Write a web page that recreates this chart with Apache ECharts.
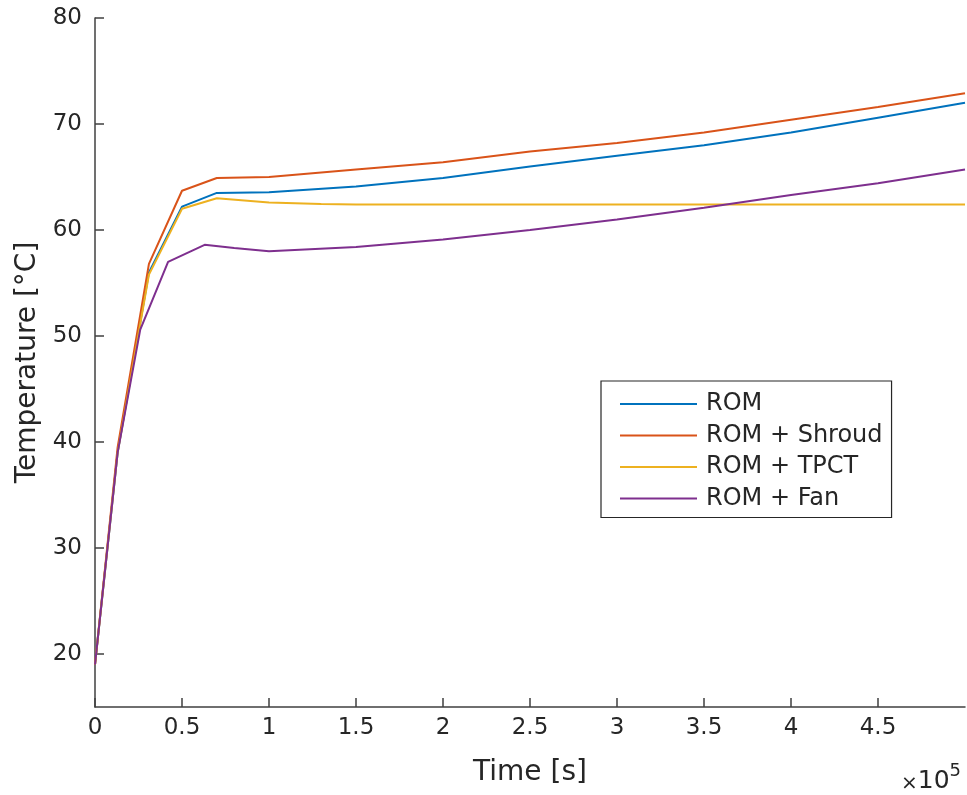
<!DOCTYPE html>
<html>
<head>
<meta charset="utf-8">
<script src="https://cdn.jsdelivr.net/npm/echarts@6/dist/echarts.min.js"></script>
<style>
html,body{margin:0;padding:0;background:#fff;}
#chart{width:967px;height:795px;}
</style>
</head>
<body>
<div id="chart"></div>
<script>
// Time values in seconds
const timeMain = [0, 13000, 31000, 50000, 70000, 100000, 150000, 200000, 250000, 300000, 350000, 400000, 450000, 500000];
const romValues = [19, 39, 56.0, 62.2, 63.5, 63.55, 64.1, 64.9, 66.0, 67.0, 68.0, 69.2, 70.6, 72.0];
const shroudValues = [19, 39.5, 56.8, 63.7, 64.9, 65.0, 65.7, 66.4, 67.4, 68.2, 69.2, 70.4, 71.6, 72.9];
const timeTpct = [0, 13000, 31000, 50000, 70000, 100000, 130000, 150000, 200000, 250000, 300000, 350000, 400000, 450000, 500000];
const tpctValues = [19, 39, 55.8, 62.0, 63.0, 62.6, 62.45, 62.4, 62.4, 62.4, 62.4, 62.4, 62.4, 62.4, 62.4];
const timeFan = [0, 13000, 26000, 42000, 63000, 80000, 100000, 150000, 200000, 250000, 300000, 350000, 400000, 450000, 500000];
const fanValues = [19, 39, 50.6, 57.0, 58.6, 58.3, 58.0, 58.4, 59.1, 60.0, 61.0, 62.1, 63.3, 64.4, 65.7];

const seriesNames = ['ROM', 'ROM + Shroud', 'ROM + TPCT', 'ROM + Fan'];
const seriesColors = ['#0072BD', '#D95319', '#EDB120', '#7E2F8E'];

const xTickValues = [0, 50000, 100000, 150000, 200000, 250000, 300000, 350000, 400000, 450000];
const xTickLabels = ['0', '0.5', '1', '1.5', '2', '2.5', '3', '3.5', '4', '4.5'];
const yTickValues = [20, 30, 40, 50, 60, 70, 80];

function pairs(t, v) { return t.map((x, i) => [x, v[i]]); }

const FONT = 'DejaVu Sans';
const TXT = '#262626';
const AX = '#404040';

const chart = echarts.init(document.getElementById('chart'), null, {renderer: 'canvas'});
const dataSets = [pairs(timeMain, romValues), pairs(timeMain, shroudValues), pairs(timeTpct, tpctValues), pairs(timeFan, fanValues)];

chart.setOption({
  animation: false,
  backgroundColor: '#ffffff',
  grid: {left: 95, right: 2, top: 18, bottom: 88, containLabel: false},
  xAxis: {
    type: 'value', min: 0, max: 500000,
    name: 'Time [s]', nameLocation: 'middle', nameGap: 52,
    nameTextStyle: {fontFamily: FONT, fontSize: 28, color: TXT},
    axisLine: {show: true, lineStyle: {color: AX, width: 1.5}},
    axisTick: {show: true, inside: true, length: 9, customValues: xTickValues, lineStyle: {color: AX, width: 1.5}},
    axisLabel: {customValues: xTickValues, margin: 10, fontFamily: FONT, fontSize: 23, color: TXT,
      formatter: v => xTickLabels[xTickValues.indexOf(v)] ?? ''},
    splitLine: {show: false}
  },
  yAxis: {
    type: 'value', min: 15, max: 80,
    name: 'Temperature [°C]', nameLocation: 'middle', nameGap: 50,
    nameTextStyle: {fontFamily: FONT, fontSize: 28, color: TXT},
    axisLine: {show: true, lineStyle: {color: AX, width: 1.5}},
    axisTick: {show: true, inside: true, length: 9, customValues: yTickValues, lineStyle: {color: AX, width: 1.5}},
    axisLabel: {customValues: yTickValues, margin: 13, fontFamily: FONT, fontSize: 23, color: TXT},
    splitLine: {show: false}
  },
  legend: {
    orient: 'vertical', left: 601, top: 381,
    padding: [11, 9, 7, 19],
    backgroundColor: '#ffffff', borderColor: '#262626', borderWidth: 1.2,
    itemWidth: 77, itemHeight: 2, itemGap: 7.5, icon: 'rect',
    textStyle: {fontFamily: FONT, fontSize: 24, color: TXT, lineHeight: 24, padding: [0, 0, 0, 4]},
    data: seriesNames
  },
  series: seriesNames.map((n, i) => ({
    name: n, type: 'line', data: dataSets[i],
    showSymbol: false, symbol: 'none',
    lineStyle: {color: seriesColors[i], width: 2},
    itemStyle: {color: seriesColors[i]},
    clip: true
  })),
  graphic: [{
    type: 'text', right: 6, top: 762,
    style: {
      text: '{a|×}{b|10}{c|5}',
      rich: {
        a: {fontFamily: FONT, fontSize: 20, fill: TXT, verticalAlign: 'bottom', lineHeight: 32},
        b: {fontFamily: FONT, fontSize: 25, fill: TXT, verticalAlign: 'bottom', lineHeight: 32},
        c: {fontFamily: FONT, fontSize: 18, fill: TXT, verticalAlign: 'top', lineHeight: 32, padding: [0, 0, 14, 0]}
      }
    }
  }]
});
</script>
</body>
</html>
